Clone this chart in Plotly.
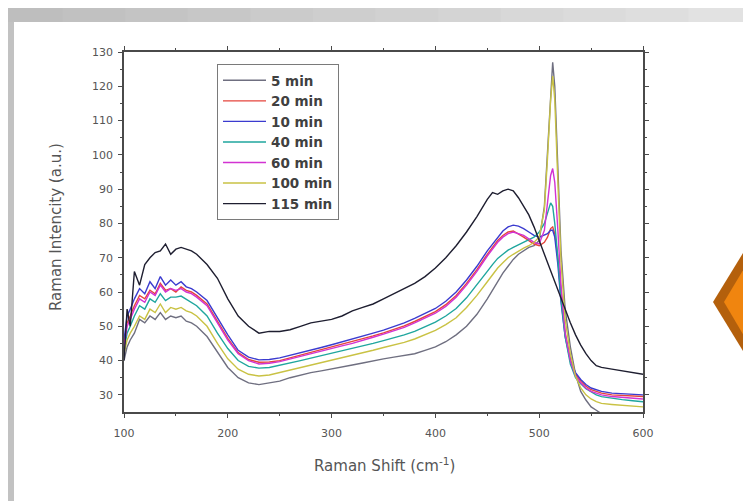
import plotly.graph_objects as go

# ---------------- data ----------------
raman_shift = [100, 103, 106, 110, 115, 120, 125, 130, 135, 140, 145, 150, 155, 160, 165, 170,
               180, 190, 200, 210, 220, 230, 240, 250, 260, 270, 280, 290, 300, 310, 320, 330,
               340, 350, 360, 370, 380, 390, 400, 410, 420, 430, 440, 450,
               455, 460, 465, 470, 475, 480, 485, 490, 495, 500,
               505, 508, 511, 513, 515, 518, 521, 525,
               530, 535, 540, 545, 550, 555, 560,
               570, 580, 590, 600]

min5 = [40, 44, 46, 48, 52, 51, 53, 52, 54, 52, 53, 52.5, 53, 51.5, 51, 50,
        47, 42.5, 38, 35, 33.5, 33, 33.5, 34, 35, 35.8, 36.5, 37, 37.5, 38, 38.7, 39.3,
        40, 40.5, 41, 41.5, 42, 43, 44, 45.5, 47.5, 50, 53.5, 58,
        60.5, 63, 65.5, 67.5, 69.5, 71, 72, 73, 73.5, 75,
        85, 100, 118, 127, 120, 95, 72, 55,
        44, 36, 31, 28.5, 26.5, 25.5, 24.5,
        23.5, 23, 22.5, 22]

min20 = [45, 51, 53, 56, 59, 58, 60.5, 59.5, 62.5, 60.5, 61, 60, 61.5, 60.5, 60, 59,
         56.5, 51.5, 46.5, 42.3, 40.3, 39.5, 39.6, 40, 40.8, 41.5, 42.3, 43, 43.8, 44.6, 45.4, 46.3,
         47.2, 48.1, 49, 50.1, 51.4, 52.8, 54.3, 56.3, 59, 62.5, 66.5, 71,
         73, 75, 76.5, 77.5, 77.8, 77, 76, 75, 74, 73.5,
         74.5, 76, 78.5, 79, 77, 70, 60, 48,
         40.5, 36, 34, 32.5, 31.5, 31, 30.5,
         30, 29.8, 29.6, 29.5]

min10 = [46, 53, 55, 58, 61, 59.5, 63, 61, 64.5, 62, 63.5, 62, 63, 61.5, 61, 60,
         57.5, 52.5, 47.5, 43, 41, 40.2, 40.3, 40.8, 41.5, 42.3, 43, 43.8, 44.6, 45.4, 46.2, 47.1,
         48, 48.9, 49.9, 51, 52.3, 53.7, 55.2, 57.3, 60, 63.5, 67.5, 72,
         74, 76, 77.8, 79, 79.5, 79.2, 78.5, 77.5, 76.5, 76,
         76.5, 77, 78, 78, 76, 68, 57, 47,
         40, 36.5, 34.5, 33, 32, 31.5, 31,
         30.5, 30.3, 30.1, 30]

min40 = [43, 48, 50, 53, 56, 55, 58, 57, 59.5, 57.5, 58.5, 58.5, 58.8, 57.8, 57, 56,
         53, 48, 43.5, 40, 38.3, 37.8, 38, 38.6, 39.3, 40, 40.7, 41.4, 42, 42.8, 43.5, 44.3,
         45, 45.8, 46.6, 47.5, 48.5, 49.8, 51.2, 53, 55.2, 58.3, 62, 66,
         68, 69.8, 71, 72.2, 73, 73.8, 74.5, 75.2, 76, 77.5,
         80, 83, 86, 85, 80, 70, 58, 47,
         39, 35, 33.2, 31.8, 30.8, 30, 29.5,
         29, 28.6, 28.3, 28]

min60 = [44, 50, 52, 55, 58, 57, 60, 59, 62, 60, 61, 60.5, 61, 60, 59.5, 58.5,
         56, 51, 46, 42, 40, 39, 39.2, 39.7, 40.5, 41.2, 42, 42.8, 43.5, 44.3, 45, 46,
         46.8, 47.7, 48.6, 49.7, 51, 52.3, 53.8, 55.8, 58.5, 62, 66, 70.5,
         72.5, 74.5, 76, 77, 77.5, 77, 76.5, 75.5, 74.5, 74,
         78, 86, 94, 96, 92, 78, 62, 48,
         40, 35.5, 33.5, 32, 31, 30.5, 30,
         29.5, 29.2, 29, 28.8]

min100 = [42, 46, 48, 50, 53, 52, 55, 54, 56.5, 54, 55.5, 55, 55.5, 54.5, 54, 53,
          50, 45, 40.5, 37.5, 36, 35.5, 35.8, 36.5, 37.3, 38, 38.8, 39.5, 40, 40.8, 41.5, 42.2,
          43, 43.8, 44.5, 45.3, 46.3, 47.5, 48.8, 50.5, 52.5, 55.5, 59, 63,
          65, 67, 68.5, 70, 71, 72, 72.8, 73.5, 74.5, 76,
          84, 99, 116, 123, 116, 92, 69, 52,
          42, 35.5, 32, 30, 28.8, 28, 27.5,
          27.2, 27, 26.8, 26.5]

min115 = [40, 55, 50, 66, 62, 68, 70, 71.5, 72, 74, 71, 72.5, 73, 72.5, 72, 71,
          68, 64, 58, 53, 50, 48, 48.5, 48.5, 49, 50, 51, 51.5, 52, 53, 54.5, 55.5,
          56.5, 58, 59.5, 61, 62.5, 64.5, 67, 70, 73.5, 77.5, 82, 87,
          89, 88.5, 89.5, 90, 89.5, 87.5, 85, 82.5, 79, 75,
          71, 68.5, 66, 64.5, 63, 60.5, 58, 55,
          51, 47.5, 44.5, 42, 40, 38.5, 38,
          37.5, 37, 36.5, 36]

series_names = ["5 min", "20 min", "10 min", "40 min", "60 min", "100 min", "115 min"]
series_values = [min5, min20, min10, min40, min60, min100, min115]
series_colors = ["#6f6f80", "#e5443c", "#3b3bcf", "#1fa69e", "#d233d2", "#c9c244", "#1e1e30"]

# ---------------- layout geometry ----------------
# targets are page pixels of the 751x501 reference; the page body adds an 8px offset
W, H = 751, 501
OFF = 8
L, R, T, B = 124 - OFF, 643 - OFF, 52 - OFF, 412 - OFF


def px(x):
    return (x - OFF - L) / (R - L)


def py(y):
    return (B - (y - OFF)) / (B - T)


fig = go.Figure()
for name, vals, col in zip(series_names, series_values, series_colors):
    fig.add_trace(go.Scatter(x=raman_shift, y=vals, mode="lines", name=name,
                             line=dict(color=col, width=1.4)))

shapes = []
shapes.append(dict(type="rect", xref="paper", yref="paper", x0=px(0), x1=px(W + 20), y0=py(H + 20), y1=py(0),
                   fillcolor="#c2c2c2", line=dict(width=0), layer="below"))
n = 12
for i in range(n):
    g = int(0xbe + (0xe2 - 0xbe) * i / (n - 1))
    shapes.append(dict(type="rect", xref="paper", yref="paper",
                       x0=px(W * i / n), x1=px(W * (i + 1) / n + 20), y0=py(22), y1=py(0),
                       fillcolor="#%02x%02x%02x" % (g, g, g), line=dict(width=0), layer="below"))
shapes.append(dict(type="rect", xref="paper", yref="paper", x0=px(14), x1=px(W + 20), y0=py(H + 20), y1=py(22),
                   fillcolor="white", line=dict(width=0), layer="below"))


def poly(points):
    return "M " + " L ".join("%f,%f" % (px(a), py(b)) for a, b in points) + " Z"


shapes.append(dict(type="path", xref="paper", yref="paper",
                   path=poly([(770, 240), (751, 240), (713, 302), (751, 364), (770, 364)]),
                   fillcolor="#b4600c", line=dict(width=0)))
shapes.append(dict(type="path", xref="paper", yref="paper",
                   path=poly([(770, 257), (751, 257), (724, 302), (751, 348), (770, 348)]),
                   fillcolor="#f0850f", line=dict(width=0)))

FONT = "DejaVu Sans, Arial"
axis_common = dict(showgrid=False, zeroline=False, showline=True, linecolor="#4a4a4a", linewidth=1.5,
                   mirror="allticks", ticks="outside", ticklen=4, tickwidth=1, tickcolor="#4a4a4a",
                   tickfont=dict(family=FONT, size=11, color="#555555"))

fig.update_layout(
    width=W, height=H,
    margin=dict(l=L, r=W - R, t=T, b=H - B),
    paper_bgcolor="white", plot_bgcolor="white",
    shapes=shapes,
    xaxis=dict(range=[100, 600], tickvals=[100, 200, 300, 400, 500, 600], ticklabelstandoff=6,
               minor=dict(tickvals=[150, 250, 350, 450, 550], ticks="outside", ticklen=2,
                          tickcolor="#4a4a4a"),
               **axis_common),
    yaxis=dict(range=[25, 130], tickvals=list(range(30, 131, 10)), ticklabelstandoff=3,
               minor=dict(tickvals=list(range(35, 130, 10)), ticks="outside", ticklen=2,
                          tickcolor="#4a4a4a"),
               **axis_common),
    legend=dict(x=px(217), y=py(64), xanchor="left", yanchor="top",
                bgcolor="white", bordercolor="#7a7a7a", borderwidth=1,
                font=dict(family=FONT, size=13.5, color="#404040", weight="bold"),
                tracegroupgap=0, itemwidth=43),
    annotations=[
        dict(text="Raman Shift (cm<sup>-1</sup>)", xref="paper", yref="paper",
             x=px(384), y=py(465), showarrow=False, xanchor="center", yanchor="middle",
             font=dict(family=FONT, size=15, color="#555555")),
        dict(text="Raman Intencity (a.u.)", xref="paper", yref="paper",
             x=px(56), y=py(227), showarrow=False, xanchor="center", yanchor="middle",
             textangle=-90,
             font=dict(family=FONT, size=15, color="#555555")),
    ],
)

fig.write_html("out.html")
